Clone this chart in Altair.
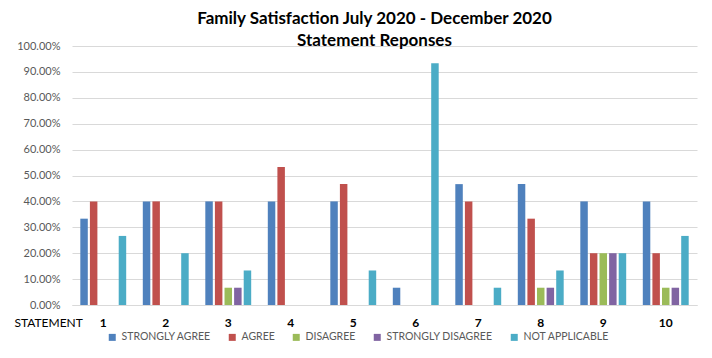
import altair as alt
import pandas as pd

statements = ["1", "2", "3", "4", "5", "6", "7", "8", "9", "10"]
series = ["STRONGLY AGREE", "AGREE", "DISAGREE", "STRONGLY DISAGREE", "NOT APPLICABLE"]
strongly_agree = [0.3333, 0.40, 0.40, 0.40, 0.40, 0.0667, 0.4667, 0.4667, 0.40, 0.40]
agree = [0.40, 0.40, 0.40, 0.5333, 0.4667, 0.0, 0.40, 0.3333, 0.20, 0.20]
disagree = [0.0, 0.0, 0.0667, 0.0, 0.0, 0.0, 0.0, 0.0667, 0.20, 0.0667]
strongly_disagree = [0.0, 0.0, 0.0667, 0.0, 0.0, 0.0, 0.0, 0.0667, 0.20, 0.0667]
not_applicable = [0.2667, 0.20, 0.1333, 0.0, 0.1333, 0.9333, 0.0667, 0.1333, 0.20, 0.2667]
colors = ["#4F81BD", "#C0504D", "#9BBB59", "#8064A2", "#4BACC6"]
y_ticks = [0.0, 0.1, 0.2, 0.3, 0.4, 0.5, 0.6, 0.7, 0.8, 0.9, 1.0]

all_series = [strongly_agree, agree, disagree, strongly_disagree, not_applicable]
rows = []
for i, s in enumerate(statements):
    for name, vals in zip(series, all_series):
        rows.append({"Statement": s, "Response": name, "Share": vals[i]})
df = pd.DataFrame(rows)

chart = alt.Chart(df).mark_bar().encode(
    x=alt.X(
        "Statement:N",
        sort=statements,
        scale=alt.Scale(paddingInner=0.232, paddingOuter=0.116),
        axis=alt.Axis(
            title="STATEMENT", labelAngle=0, ticks=False, grid=False,
            domainColor="#D9D9D9", labelFont="Lato", labelFontSize=12,
            labelFontWeight="bold",
            labelColor="#000000", labelPadding=12,
            titleX=-58, titleY=17, titleAlign="left", titleBaseline="middle",
            titleFont="Lato", titleFontSize=12, titleFontWeight="normal",
            titleColor="#000000",
        ),
    ),
    xOffset=alt.XOffset(
        "Response:N", sort=series,
        scale=alt.Scale(paddingInner=0.22, paddingOuter=0.11),
    ),
    y=alt.Y(
        "Share:Q",
        scale=alt.Scale(domain=[0, 1], nice=False),
        axis=alt.Axis(
            title=None, format=".2%", values=y_ticks, grid=True,
            gridColor="#D9D9D9", domain=False, ticks=False,
            labelFont="Lato", labelFontSize=11, labelColor="#595959",
            labelPadding=12,
        ),
    ),
    color=alt.Color(
        "Response:N", sort=series,
        scale=alt.Scale(domain=series, range=colors),
        legend=alt.Legend(
            title=None, orient="none", legendX=35, legendY=286,
            direction="horizontal", symbolType="square", symbolSize=49,
            symbolStrokeWidth=0, labelFont="Lato", labelFontSize=10.5,
            labelColor="#595959", columnPadding=16, padding=0, labelOffset=4,
        ),
    ),
).properties(
    width=625,
    height=259,
    autosize="none",
    padding={"left": 64, "top": 38, "right": 7, "bottom": 42},
    title=alt.TitleParams(
        text=["Family Satisfaction July 2020 - December 2020", "Statement Reponses"],
        font="Lato", fontSize=17, fontWeight="bold", color="#000000",
        anchor="middle", dx=-10, offset=-10, lineHeight=22,
    ),
).configure_view(stroke=None)

chart.save("out.html", embed_options={"renderer": "svg", "actions": False})
